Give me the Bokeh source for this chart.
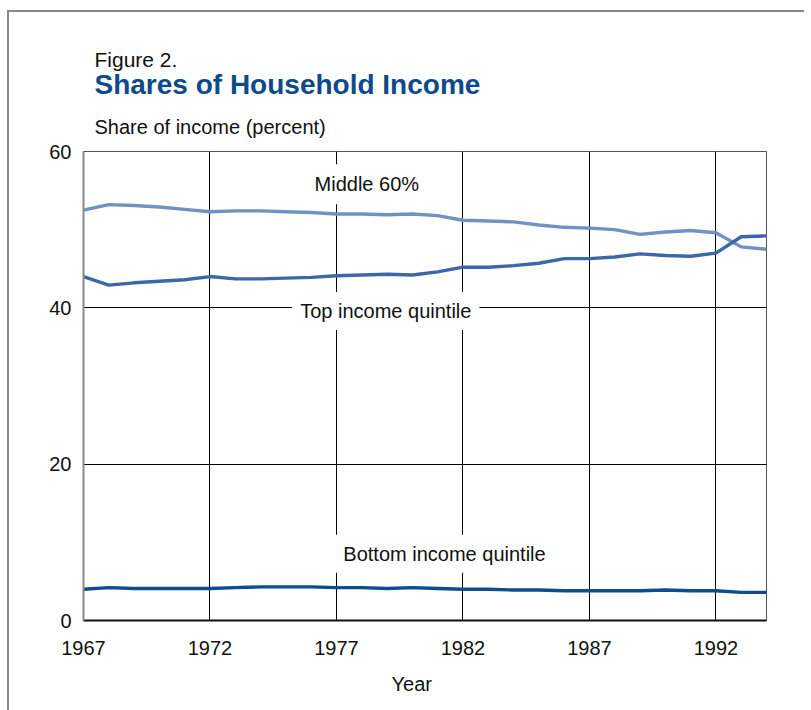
from bokeh.plotting import figure
from bokeh.models import Label, FixedTicker, Range1d, Title
from bokeh.embed import file_html
from bokeh.resources import INLINE

years = list(range(1967, 1995))
middle_60 = [52.5, 53.2, 53.1, 52.9, 52.6, 52.3, 52.4, 52.4, 52.3, 52.2, 52.0,
             52.0, 51.9, 52.0, 51.8, 51.2, 51.1, 51.0, 50.6, 50.3, 50.2,
             50.0, 49.4, 49.7, 49.9, 49.6, 47.8, 47.5]
top_quintile = [44.0, 42.9, 43.2, 43.4, 43.6, 44.0, 43.7, 43.7, 43.8, 43.9, 44.1,
                44.2, 44.3, 44.2, 44.6, 45.2, 45.2, 45.4, 45.7, 46.3, 46.3,
                46.5, 46.9, 46.7, 46.6, 47.0, 49.1, 49.2]
bottom_quintile = [4.0, 4.2, 4.1, 4.1, 4.1, 4.1, 4.2, 4.3, 4.3, 4.3, 4.2,
                   4.2, 4.1, 4.2, 4.1, 4.0, 4.0, 3.9, 3.9, 3.8, 3.8,
                   3.8, 3.8, 3.9, 3.8, 3.8, 3.6, 3.6]
x_ticks = [1967, 1972, 1977, 1982, 1987, 1992]
y_ticks = [0, 20, 40, 60]

FONT = "Liberation Sans"

p = figure(width=797, height=700, output_backend="svg", toolbar_location=None,
           x_range=Range1d(1967, 1994), y_range=Range1d(0, 60),
           min_border_left=74, min_border_top=139, min_border_right=40,
           min_border_bottom=91)
p.title.text = ""
p.styles = {"border-left": "2px solid #8a8a8a", "border-top": "2px solid #8a8a8a",
            "margin-top": "10px", "margin-left": "7px", "margin-bottom": "-14px"}

p.outline_line_color = "#555555"
p.outline_line_width = 1

for ax in (p.xaxis[0], p.yaxis[0]):
    ax.major_tick_in = 0
    ax.major_tick_out = 0
    ax.minor_tick_line_color = None
    ax.major_label_text_font = FONT
    ax.major_label_text_font_size = "20px"
    ax.major_label_text_color = "#111111"

p.xaxis.ticker = FixedTicker(ticks=x_ticks)
p.yaxis.ticker = FixedTicker(ticks=y_ticks)
p.xaxis.major_label_standoff = 20
p.yaxis.major_label_standoff = 12
p.xaxis.axis_line_color = "#111111"
p.xaxis.axis_line_width = 2
p.yaxis.axis_line_color = "#8a8a8a"
p.yaxis.axis_line_width = 2

p.xgrid.grid_line_color = "black"
p.ygrid.grid_line_color = "black"
p.xgrid.grid_line_width = 1
p.ygrid.grid_line_width = 1

p.line(years, middle_60, line_color="#7091c4", line_width=3.4, line_join="round")
p.line(years, top_quintile, line_color="#3c67a8", line_width=3.4, line_join="round")
p.line(years, bottom_quintile, line_color="#0f4c8e", line_width=3.4, line_join="round")

# in-plot labels with white boxes (cut the grid lines)
for txt, lx, ly, pad in [("Middle 60%", 1978.2, 55.8, 9),
                         ("Top income quintile", 1978.95, 39.6, 8),
                         ("Bottom income quintile", 1981.27, 8.55, 8)]:
    p.add_layout(Label(x=lx, y=ly, text=txt, text_align="center",
                       text_baseline="middle", text_font=FONT,
                       text_font_size="20px", text_color="#111111",
                       background_fill_color="white", padding=pad))

# headings (stacked above the frame; first added is closest to the frame)
p.add_layout(Title(text="Share of income (percent)", align="left", offset=11,
                   standoff=28, text_font=FONT, text_font_size="20px",
                   text_font_style="normal", text_color="#111111"), "above")
p.add_layout(Title(text="Shares of Household Income", align="left", offset=11,
                   standoff=0, text_font=FONT, text_font_size="28px",
                   text_font_style="bold", text_color="#0d4a8c"), "above")
p.add_layout(Title(text="Figure 2.", align="left", offset=11,
                   standoff=-8, text_font=FONT, text_font_size="21px",
                   text_font_style="normal", text_color="#111111"), "above")

# axis title
p.add_layout(Title(text="Year", align="left", offset=308, vertical_align="top",
                   standoff=31, text_font=FONT, text_font_size="20px",
                   text_font_style="normal", text_color="#111111"), "below")

open("out.html", "w").write(file_html(p, INLINE))
